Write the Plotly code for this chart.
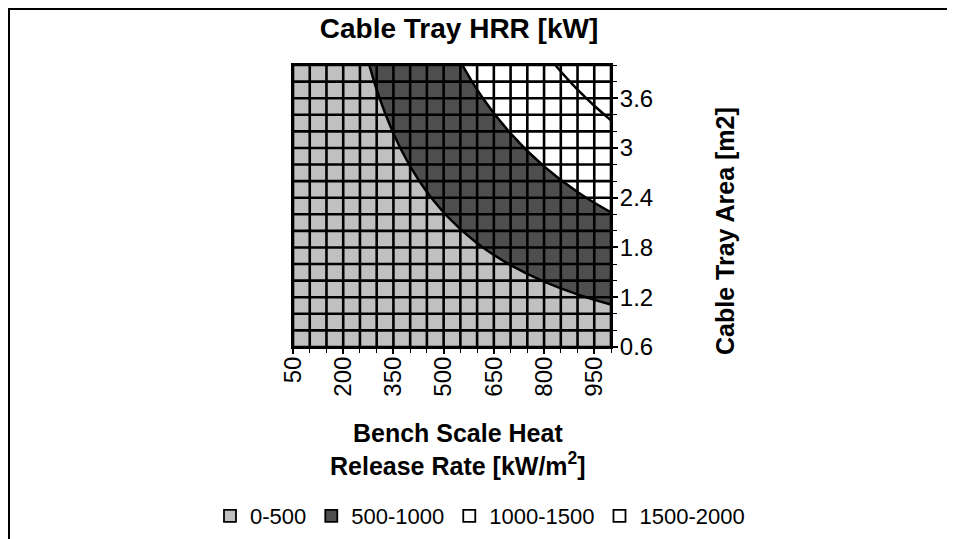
import plotly.graph_objects as go

# Bench scale heat release rate categories [kW/m2]
bench_hrr = [50, 100, 150, 200, 250, 300, 350, 400, 450, 500,
             550, 600, 650, 700, 750, 800, 850, 900, 950, 1000]
# Cable tray area categories [m2]
tray_area = [0.6, 0.8, 1.0, 1.2, 1.4, 1.6, 1.8, 2.0, 2.2, 2.4,
             2.6, 2.8, 3.0, 3.2, 3.4, 3.6, 3.8, 4.0]

# Cable tray HRR [kW], one row per tray area, one column per bench HRR
hrr_kw = [
    [13.5, 27, 40.5, 54, 67.5, 81, 94.5, 108, 121.5, 135, 148.5, 162, 175.5, 189, 202.5, 216, 229.5, 243, 256.5, 270],
    [18, 36, 54, 72, 90, 108, 126, 144, 162, 180, 198, 216, 234, 252, 270, 288, 306, 324, 342, 360],
    [22.5, 45, 67.5, 90, 112.5, 135, 157.5, 180, 202.5, 225, 247.5, 270, 292.5, 315, 337.5, 360, 382.5, 405, 427.5, 450],
    [27, 54, 81, 108, 135, 162, 189, 216, 243, 270, 297, 324, 351, 378, 405, 432, 459, 486, 513, 540],
    [31.5, 63, 94.5, 126, 157.5, 189, 220.5, 252, 283.5, 315, 346.5, 378, 409.5, 441, 472.5, 504, 535.5, 567, 598.5, 630],
    [36, 72, 108, 144, 180, 216, 252, 288, 324, 360, 396, 432, 468, 504, 540, 576, 612, 648, 684, 720],
    [40.5, 81, 121.5, 162, 202.5, 243, 283.5, 324, 364.5, 405, 445.5, 486, 526.5, 567, 607.5, 648, 688.5, 729, 769.5, 810],
    [45, 90, 135, 180, 225, 270, 315, 360, 405, 450, 495, 540, 585, 630, 675, 720, 765, 810, 855, 900],
    [49.5, 99, 148.5, 198, 247.5, 297, 346.5, 396, 445.5, 495, 544.5, 594, 643.5, 693, 742.5, 792, 841.5, 891, 940.5, 990],
    [54, 108, 162, 216, 270, 324, 378, 432, 486, 540, 594, 648, 702, 756, 810, 864, 918, 972, 1026, 1080],
    [58.5, 117, 175.5, 234, 292.5, 351, 409.5, 468, 526.5, 585, 643.5, 702, 760.5, 819, 877.5, 936, 994.5, 1053, 1111.5, 1170],
    [63, 126, 189, 252, 315, 378, 441, 504, 567, 630, 693, 756, 819, 882, 945, 1008, 1071, 1134, 1197, 1260],
    [67.5, 135, 202.5, 270, 337.5, 405, 472.5, 540, 607.5, 675, 742.5, 810, 877.5, 945, 1012.5, 1080, 1147.5, 1215, 1282.5, 1350],
    [72, 144, 216, 288, 360, 432, 504, 576, 648, 720, 792, 864, 936, 1008, 1080, 1152, 1224, 1296, 1368, 1440],
    [76.5, 153, 229.5, 306, 382.5, 459, 535.5, 612, 688.5, 765, 841.5, 918, 994.5, 1071, 1147.5, 1224, 1300.5, 1377, 1453.5, 1530],
    [81, 162, 243, 324, 405, 486, 567, 648, 729, 810, 891, 972, 1053, 1134, 1215, 1296, 1377, 1458, 1539, 1620],
    [85.5, 171, 256.5, 342, 427.5, 513, 598.5, 684, 769.5, 855, 940.5, 1026, 1111.5, 1197, 1282.5, 1368, 1453.5, 1539, 1624.5, 1710],
    [90, 180, 270, 360, 450, 540, 630, 720, 810, 900, 990, 1080, 1170, 1260, 1350, 1440, 1530, 1620, 1710, 1800],
]

band_names = ["0-500", "500-1000", "1000-1500", "1500-2000"]
band_colors = ["#c0c0c0", "#4e4e4e", "#ffffff", "#ffffff"]
band_edges = [0, 500, 1000, 1500, 2000]

x_tick_vals = bench_hrr[::3]
x_tick_text = [str(v) for v in x_tick_vals]
y_tick_vals = [0.6, 1.2, 1.8, 2.4, 3.0, 3.6]
y_tick_text = ["0.6", "1.2", "1.8", "2.4", "3", "3.6"]

FONT = "Liberation Sans, Arial, Helvetica, sans-serif"

# stepped colorscale for filled bands
zmin, zmax = band_edges[0], band_edges[-1]
cscale = []
for i, c in enumerate(band_colors):
    a = (band_edges[i] - zmin) / (zmax - zmin)
    b = (band_edges[i + 1] - zmin) / (zmax - zmin)
    cscale.append([a, c])
    cscale.append([b, c])

fig = go.Figure()
fig.add_trace(go.Contour(
    x=bench_hrr, y=tray_area, z=hrr_kw,
    zmin=zmin, zmax=zmax, colorscale=cscale, showscale=False,
    contours=dict(start=band_edges[1], end=band_edges[-2], size=500,
                  coloring="fill", showlines=True),
    line=dict(color="black", width=2.5, smoothing=0),
    hoverinfo="skip", showlegend=False,
))

# category grid drawn over the surface
gx, gy = [], []
for xv in bench_hrr:
    gx += [xv, xv, None]
    gy += [tray_area[0], tray_area[-1], None]
for yv in tray_area:
    gx += [bench_hrr[0], bench_hrr[-1], None]
    gy += [yv, yv, None]
fig.add_trace(go.Scatter(x=gx, y=gy, mode="lines",
                         line=dict(color="black", width=2.6),
                         hoverinfo="skip", showlegend=False))

# legend entries
for name, col in zip(band_names, band_colors):
    fig.add_trace(go.Scatter(
        x=[None], y=[None], mode="markers", name=name,
        marker=dict(symbol="square", size=12, color=col,
                    line=dict(color="black", width=1.8)),
    ))

# page is offset by the 8px body margin of the browser
OFF = 8
W, H = 955 - OFF, 539 - OFF


def px(v):
    return v - OFF


L, R, T, B = px(293), px(611), px(65), px(347)


def fx(page_x):
    return (px(page_x) - L) / (R - L)


def fy(page_y):
    return (B - px(page_y)) / (B - T)


fig.update_layout(
    width=W, height=H,
    margin=dict(l=L, r=W - R, t=T, b=H - B, autoexpand=False),
    paper_bgcolor="white", plot_bgcolor="white",
    font=dict(family=FONT, size=24, color="black"),
    title=dict(text="<b>Cable Tray HRR [kW]</b>", font=dict(size=28),
               x=px(459) / W, xanchor="center", xref="container",
               y=1 - px(28) / H, yanchor="middle", yref="container"),
    xaxis=dict(range=[bench_hrr[0], bench_hrr[-1]], showgrid=False, zeroline=False,
               tickmode="array", tickvals=x_tick_vals, ticktext=x_tick_text,
               tickangle=-90, ticks="outside", ticklen=5, tickwidth=1.5,
               tickcolor="black", tickfont=dict(size=24), ticklabelstandoff=-7,
               showline=True, linecolor="black", linewidth=2, mirror=True,
               minor=dict(tickmode="array", tickvals=bench_hrr, ticks="outside",
                          ticklen=4, tickwidth=1, tickcolor="black"),
               automargin=False),
    yaxis=dict(range=[tray_area[0], tray_area[-1]], side="right", showgrid=False,
               zeroline=False, tickmode="array", tickvals=y_tick_vals,
               ticktext=y_tick_text, ticks="outside", ticklen=5, tickwidth=1.5,
               tickcolor="black", tickfont=dict(size=24), ticklabelstandoff=-3,
               showline=True, linecolor="black", linewidth=2, mirror=True,
               minor=dict(tickmode="array", tickvals=tray_area, ticks="outside",
                          ticklen=4, tickwidth=1, tickcolor="black"),
               automargin=False),
    legend=dict(orientation="h", x=fx(210), xanchor="left", xref="paper",
                y=fy(516), yanchor="middle", yref="paper",
                font=dict(size=22), itemwidth=30, tracegroupgap=0,
                bgcolor="rgba(0,0,0,0)"),
    annotations=[
        dict(text="<b>Bench Scale Heat<br>Release Rate [kW/m<sup>2</sup>]</b>",
             xref="paper", yref="paper",
             x=fx(458), y=fy(449),
             xanchor="center", yanchor="middle", showarrow=False,
             font=dict(size=25)),
        dict(text="<b>Cable Tray Area [m2]</b>", textangle=-90,
             xref="paper", yref="paper",
             x=fx(725), y=fy(231),
             xanchor="center", yanchor="middle", showarrow=False,
             font=dict(size=25)),
    ],
    shapes=[
        dict(type="line", xref="paper", yref="paper",
             x0=fx(8), x1=fx(955),
             y0=fy(9), y1=fy(9),
             line=dict(color="black", width=2)),
        dict(type="line", xref="paper", yref="paper",
             x0=fx(9), x1=fx(9),
             y0=fy(9), y1=fy(539),
             line=dict(color="black", width=2)),
    ],
)

fig.write_html("out.html")
